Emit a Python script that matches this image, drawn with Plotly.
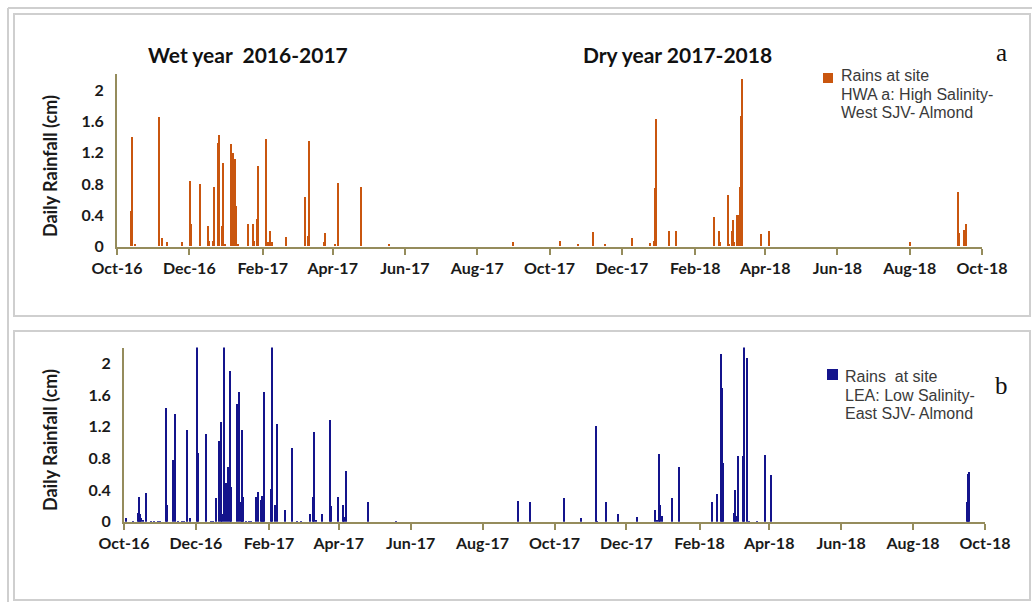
import plotly.graph_objects as go

# ---------------- data ----------------
hwa_dates = ["2016-10-13", "2016-10-14", "2016-10-16", "2016-11-06", "2016-11-08", "2016-11-12",
             "2016-11-25", "2016-12-02", "2016-12-03", "2016-12-10", "2016-12-17", "2016-12-18",
             "2016-12-21", "2016-12-22", "2016-12-25", "2016-12-26", "2016-12-29", "2016-12-30",
             "2016-12-31", "2017-01-05", "2017-01-07", "2017-01-09", "2017-01-10", "2017-01-11",
             "2017-01-20", "2017-01-24", "2017-01-25", "2017-01-27", "2017-01-28", "2017-02-04",
             "2017-02-05", "2017-02-06", "2017-02-07", "2017-02-09", "2017-02-21", "2017-03-09",
             "2017-03-11", "2017-03-12", "2017-03-25", "2017-03-26", "2017-04-03", "2017-04-06",
             "2017-04-25", "2017-05-19", "2017-08-31", "2017-10-10", "2017-10-25", "2017-11-07",
             "2017-11-17", "2017-12-10", "2017-12-25", "2017-12-28", "2017-12-29", "2017-12-30",
             "2018-01-10", "2018-01-16", "2018-02-17", "2018-02-21", "2018-02-22", "2018-03-01",
             "2018-03-02", "2018-03-04", "2018-03-05", "2018-03-06", "2018-03-08", "2018-03-09",
             "2018-03-11", "2018-03-12", "2018-03-13", "2018-03-29", "2018-04-04", "2018-08-01",
             "2018-09-11", "2018-09-12", "2018-09-16", "2018-09-18"]
hwa_rain = [0.45, 1.39, 0.03, 1.65, 0.10, 0.05,
            0.05, 0.84, 0.28, 0.79, 0.26, 0.07,
            0.07, 0.76, 1.32, 1.42, 0.26, 1.07,
            0.03, 1.30, 1.19, 1.11, 0.51, 0.03,
            0.28, 0.28, 0.07, 0.35, 1.03, 1.37,
            0.06, 0.05, 0.20, 0.05, 0.12, 0.63,
            0.13, 1.34, 0.05, 0.17, 0.03, 0.81,
            0.76, 0.03, 0.05, 0.07, 0.03, 0.18,
            0.03, 0.10, 0.04, 0.07, 0.74, 1.62,
            0.20, 0.20, 0.38, 0.20, 0.05, 0.66,
            0.03, 0.19, 0.33, 0.06, 0.40, 0.40,
            0.76, 1.67, 2.13, 0.16, 0.20, 0.05,
            0.69, 0.17, 0.21, 0.28]

lea_dates = ["2016-10-03", "2016-10-09", "2016-10-13", "2016-10-14", "2016-10-15", "2016-10-16",
             "2016-10-17", "2016-10-20", "2016-10-24", "2016-10-27", "2016-10-30", "2016-11-01",
             "2016-11-06", "2016-11-07", "2016-11-12", "2016-11-13", "2016-11-16", "2016-11-19",
             "2016-11-21", "2016-11-24", "2016-11-26", "2016-12-02", "2016-12-03", "2016-12-10",
             "2016-12-14", "2016-12-16", "2016-12-18", "2016-12-21", "2016-12-22", "2016-12-23",
             "2016-12-25", "2016-12-27", "2016-12-28", "2016-12-30", "2016-12-31", "2017-01-05",
             "2017-01-07", "2017-01-08", "2017-01-09", "2017-01-10", "2017-01-13", "2017-01-15",
             "2017-01-17", "2017-01-21", "2017-01-23", "2017-01-25", "2017-01-26", "2017-01-27",
             "2017-01-28", "2017-02-03", "2017-02-04", "2017-02-06", "2017-02-08", "2017-02-15",
             "2017-02-21", "2017-02-25", "2017-02-28", "2017-03-08", "2017-03-10", "2017-03-11",
             "2017-03-13", "2017-03-18", "2017-03-25", "2017-03-26", "2017-04-01", "2017-04-05",
             "2017-04-06", "2017-04-07", "2017-04-26", "2017-05-20", "2017-08-31", "2017-09-10",
             "2017-10-09", "2017-10-24", "2017-11-05", "2017-11-06", "2017-11-14", "2017-11-24",
             "2017-12-10", "2017-12-25", "2017-12-27", "2017-12-29", "2017-12-30", "2017-12-31",
             "2018-01-09", "2018-01-15", "2018-02-12", "2018-02-16", "2018-02-19", "2018-02-20",
             "2018-02-21", "2018-03-02", "2018-03-03", "2018-03-04", "2018-03-06", "2018-03-10",
             "2018-03-11", "2018-03-13", "2018-03-15", "2018-03-22", "2018-03-29", "2018-04-03",
             "2018-09-16", "2018-09-17", "2018-09-18"]
lea_rain = [0.05, 0.02, 0.11, 0.32, 0.10, 0.05,
            0.03, 0.37, 0.02, 0.02, 0.02, 0.02,
            1.44, 0.22, 0.79, 1.37, 0.02, 0.02,
            0.02, 1.17, 0.05, 2.50, 0.88, 1.12,
            0.02, 0.02, 0.31, 1.03, 1.27, 0.10,
            2.40, 0.49, 0.70, 1.91, 0.45, 1.49,
            1.65, 0.25, 1.17, 0.32, 0.02, 0.02,
            0.02, 0.32, 0.38, 0.28, 0.33, 0.17,
            1.65, 0.42, 2.40, 0.22, 1.24, 0.15,
            0.94, 0.02, 0.02, 0.10, 0.32, 1.14,
            0.03, 0.10, 1.29, 0.20, 0.32, 0.22,
            0.07, 0.65, 0.25, 0.02, 0.27, 0.25,
            0.30, 0.05, 1.22, 0.02, 0.25, 0.10,
            0.07, 0.15, 0.03, 0.86, 0.22, 0.08,
            0.31, 0.70, 0.25, 0.35, 2.13, 1.70,
            0.75, 0.11, 0.41, 0.08, 0.83, 0.83,
            2.40, 2.08, 0.02, 0.02, 0.85, 0.60,
            0.25, 0.61, 0.63]

tick_vals = ["2016-10-01", "2016-12-01", "2017-02-01", "2017-04-01", "2017-06-01", "2017-08-01",
             "2017-10-01", "2017-12-01", "2018-02-01", "2018-04-01", "2018-06-01", "2018-08-01",
             "2018-10-01"]
tick_labels = ["Oct-16", "Dec-16", "Feb-17", "Apr-17", "Jun-17", "Aug-17", "Oct-17", "Dec-17",
               "Feb-18", "Apr-18", "Jun-18", "Aug-18", "Oct-18"]
y_ticks = [0, 0.4, 0.8, 1.2, 1.6, 2]
y_labels = ["0", "0.4", "0.8", "1.2", "1.6", "2"]

legend_a = ["Rains at site", "HWA a: High Salinity-", "West SJV- Almond"]
legend_b = ["Rains\u00a0 at site", "LEA: Low Salinity-", "East SJV- Almond"]

# ---------------- styling ----------------
W, H = 1032, 602
ORANGE = "#C9560F"
NAVY = "#14148C"
AXIS = "#958C5C"
TICKFONT = dict(family="Lato, sans-serif", size=16, color="#1a1a1a", weight="bold")
DAY_MS = 86400000


def px(x):
    return x / W


def py(y):
    return 1 - y / H


fig = go.Figure()
fig.add_trace(go.Bar(x=hwa_dates, y=hwa_rain, width=DAY_MS * 1.2, marker=dict(color=ORANGE, line=dict(width=0)),
                     xaxis="x", yaxis="y", showlegend=False))
fig.add_trace(go.Bar(x=lea_dates, y=lea_rain, width=DAY_MS * 1.2, marker=dict(color=NAVY, line=dict(width=0)),
                     xaxis="x2", yaxis="y2", showlegend=False))

xcommon = dict(type="date", range=["2016-10-01", "2018-10-01"], tickvals=tick_vals, ticktext=tick_labels,
               showline=True, linecolor=AXIS, linewidth=2, ticks="outside", ticklen=6, tickwidth=2,
               tickcolor=AXIS, tickfont=TICKFONT, showgrid=False, zeroline=False, fixedrange=True,
               automargin=False)
ycommon = dict(range=[0, 2.2], tickvals=y_ticks, ticktext=y_labels, showline=True, linecolor=AXIS,
               linewidth=2, ticks="", tickfont=TICKFONT, showgrid=False, zeroline=False, ticklabelstandoff=8,
               automargin=False)

fig.update_layout(
    width=W, height=H, autosize=False, margin=dict(l=0, r=0, t=0, b=0, pad=0),
    paper_bgcolor="white", plot_bgcolor="white", bargap=0,
    xaxis=dict(domain=[px(117), px(982)], anchor="y", **xcommon),
    yaxis=dict(domain=[py(246.7), py(74.4)], anchor="x", **ycommon),
    xaxis2=dict(domain=[px(124), px(985)], anchor="y2", **xcommon),
    yaxis2=dict(domain=[py(521.7), py(347.5)], anchor="x2", **ycommon),
)

GRAY = "#CFCFCF"
P = dict(xref="paper", yref="paper")
shapes = [
    # outer frame
    dict(type="line", x0=px(8), x1=px(1032), y0=py(8), y1=py(8), line=dict(color=GRAY, width=2), **P),
    dict(type="line", x0=px(8), x1=px(8), y0=py(8), y1=py(602), line=dict(color=GRAY, width=2), **P),
    # panel boxes
    dict(type="rect", x0=px(14), x1=px(1030), y0=py(14), y1=py(316), line=dict(color=GRAY, width=2), **P),
    dict(type="rect", x0=px(14), x1=px(1030), y0=py(331), y1=py(600), line=dict(color=GRAY, width=2), **P),
    # legend swatches
    dict(type="rect", x0=px(823), x1=px(833), y0=py(73), y1=py(83), fillcolor=ORANGE, line=dict(width=0), **P),
    dict(type="rect", x0=px(827), x1=px(838), y0=py(369), y1=py(380), fillcolor=NAVY, line=dict(width=0), **P),
]
fig.update_layout(shapes=shapes)

LEGFONT = dict(family="Liberation Sans, Arial, sans-serif", size=16, color="#3a3a3a")
annotations = []
for text, xc in (("Wet year\u00a0 2016-2017", 248), ("Dry year 2017-2018", 677)):
    annotations.append(dict(text=text, x=px(xc), y=py(54), xref="paper", yref="paper",
                            xanchor="center", yanchor="middle", showarrow=False,
                            font=dict(family="Lato, sans-serif", size=21, color="#111111", weight="bold")))
for yc in (166, 440):
    annotations.append(dict(text="Daily Rainfall (cm)", x=px(50), y=py(yc), xref="paper", yref="paper",
                            xanchor="center", yanchor="middle", showarrow=False, textangle=-90,
                            font=dict(family="Lato, sans-serif", size=18, color="#1a1a1a", weight="bold")))
annotations.append(dict(text="a", x=px(1001), y=py(53), xref="paper", yref="paper", xanchor="center",
                        yanchor="middle", showarrow=False,
                        font=dict(family="Liberation Serif, serif", size=25, color="#111111")))
annotations.append(dict(text="b", x=px(1001), y=py(385), xref="paper", yref="paper", xanchor="center",
                        yanchor="middle", showarrow=False,
                        font=dict(family="Liberation Serif, serif", size=25, color="#111111")))
for lines, x0, ys in ((legend_a, 839, (76, 95, 113)), (legend_b, 843, (376, 395, 413))):
    for line, yc in zip(lines, ys):
        annotations.append(dict(text=line, x=px(x0), y=py(yc), xref="paper", yref="paper",
                                xanchor="left", yanchor="middle", align="left", showarrow=False,
                                font=LEGFONT))
fig.update_layout(annotations=annotations)

fig.write_html("out.html")
